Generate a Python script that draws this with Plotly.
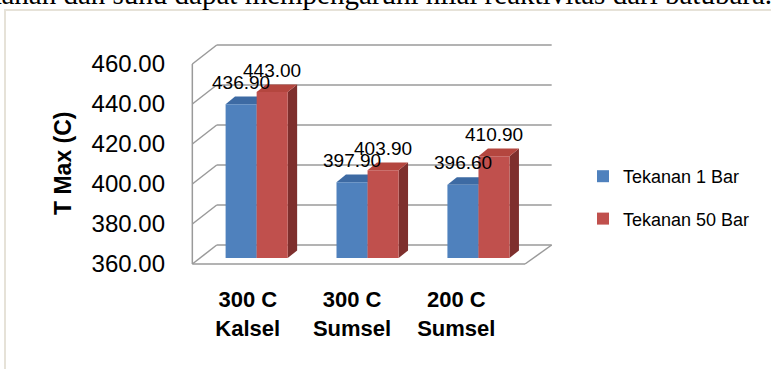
import plotly.graph_objects as go

# ---- data ----
categories = ["300 C<br>Kalsel", "300 C<br>Sumsel", "200 C<br>Sumsel"]
series_names = ["Tekanan 1 Bar", "Tekanan 50 Bar"]
tekanan_1_bar = [436.90, 397.90, 396.60]
tekanan_50_bar = [443.00, 403.90, 410.90]
y_ticks = [360, 380, 400, 420, 440, 460]

# ---- styling / 3D geometry (axis units) ----
FRONT = ["#4F81BD", "#C0504D"]
TOP = ["#3D6AA3", "#B4463F"]
SIDE = ["#3A5F8E", "#7E2F2D"]
GRID = "#9a9a9a"

Y0, Y1 = 356, 472          # y axis range
X0, X1 = -0.55, 2.75       # x axis range
L, R, T, B = 189, 555, 40, 272   # plot area in pixels
FIG_W, FIG_H = 771, 369

FL, FR = -0.52, 2.48       # front left / right edges of the floor
BL, BR = -0.30, 2.72       # back wall left / right
WDY = 9.5                  # wall depth in y units
BAR_W = 0.28               # width of one bar
BAR_SHIFT = 0.06           # front face shift to the right of category centre
LIFT = 3.0                 # front face sits a little behind the floor edge
BDX, BDY = 0.085, 3.8      # depth of each bar


def px_to_paper_x(px):
    return (px - L) / (R - L)


def px_to_paper_y(py):
    return (B - py) / (B - T)


shapes = []

# chart-area border
shapes.append(dict(type="rect", xref="paper", yref="paper",
                   x0=px_to_paper_x(5), x1=px_to_paper_x(FIG_W + 20),
                   y0=px_to_paper_y(FIG_H + 20), y1=px_to_paper_y(10),
                   line=dict(color="#E6E2D8", width=2), fillcolor="rgba(0,0,0,0)",
                   layer="below"))

line_style = dict(color=GRID, width=1.5)
# back wall gridlines and left wall diagonals
for v in y_ticks:
    shapes.append(dict(type="line", xref="x", yref="y", x0=BL, x1=BR,
                       y0=v + WDY, y1=v + WDY, line=line_style, layer="below"))
    shapes.append(dict(type="line", xref="x", yref="y", x0=FL, x1=BL,
                       y0=v, y1=v + WDY, line=line_style, layer="below"))
# left wall front edge
shapes.append(dict(type="line", xref="x", yref="y", x0=FL, x1=FL,
                   y0=y_ticks[0], y1=y_ticks[-1], line=line_style, layer="below"))
# floor front edge and right edge
shapes.append(dict(type="line", xref="x", yref="y", x0=FL, x1=FR,
                   y0=y_ticks[0], y1=y_ticks[0], line=line_style, layer="below"))
shapes.append(dict(type="line", xref="x", yref="y", x0=FR, x1=BR,
                   y0=y_ticks[0], y1=y_ticks[0] + WDY, line=line_style, layer="below"))


def quad(pts, color):
    path = "M " + " L ".join(f"{x},{y}" for x, y in pts) + " Z"
    return dict(type="path", xref="x", yref="y", path=path,
                fillcolor=color, line=dict(width=0), layer="below")


series = [tekanan_1_bar, tekanan_50_bar]
offsets = [BAR_SHIFT - BAR_W, BAR_SHIFT]
base = y_ticks[0] + LIFT

# top and side faces of each bar
for s, vals in enumerate(series):
    for i, v in enumerate(vals):
        xl = i + offsets[s]
        xr = xl + BAR_W
        top = v + LIFT
        shapes.append(quad([(xr, base), (xr + BDX, base + BDY),
                            (xr + BDX, top + BDY), (xr, top)], SIDE[s]))
        shapes.append(quad([(xl, top), (xl + BDX, top + BDY),
                            (xr + BDX, top + BDY), (xr, top)], TOP[s]))

fig = go.Figure()
for s, vals in enumerate(series):
    fig.add_trace(go.Bar(
        x=list(range(len(categories))),
        y=[v - y_ticks[0] for v in vals],
        base=[base] * len(vals),
        width=BAR_W,
        offset=offsets[s],
        name=series_names[s],
        marker=dict(color=FRONT[s], line=dict(width=0)),
        legendgroup=series_names[s],
        hoverinfo="skip",
    ))

annotations = []
# value labels above the bars
for s, vals in enumerate(series):
    for i, v in enumerate(vals):
        annotations.append(dict(
            x=i + offsets[s] + BAR_W / 2, y=v + LIFT, xref="x", yref="y",
            text=f"{v:.2f}", showarrow=False, yshift=22,
            font=dict(family="Liberation Sans", size=19, color="#000000")))

# y axis title
annotations.append(dict(
    x=px_to_paper_x(63), y=px_to_paper_y(163), xref="paper", yref="paper",
    xanchor="center", yanchor="middle",
    text="<b>T Max (C)</b>", textangle=-90, showarrow=False,
    font=dict(family="Liberation Sans", size=23, color="#000000")))

# running text above the chart
annotations.append(dict(
    x=px_to_paper_x(-36), y=px_to_paper_y(12.5), xref="paper", yref="paper",
    xanchor="left", yanchor="bottom",
    text="tekanan dan suhu dapat mempengaruhi nilai reaktivitas dari batubara.",
    showarrow=False,
    font=dict(family="Liberation Serif", size=29, color="#000000")))

fig.update_layout(
    width=FIG_W, height=FIG_H,
    margin=dict(l=L, r=FIG_W - R, t=T, b=FIG_H - B, pad=0),
    paper_bgcolor="#FFFFFF", plot_bgcolor="rgba(0,0,0,0)",
    barmode="overlay",
    shapes=shapes, annotations=annotations,
    showlegend=True,
    legend=dict(x=px_to_paper_x(583), y=px_to_paper_y(158), xanchor="left", yanchor="top",
                font=dict(family="Liberation Sans", size=18, color="#000000"),
                tracegroupgap=16, itemwidth=30, bgcolor="rgba(0,0,0,0)"),
    xaxis=dict(range=[X0, X1], showgrid=False, zeroline=False, showline=False,
               tickmode="array",
               tickvals=[i * 0.94 - 0.02 for i in range(len(categories))],
               ticktext=[f"<b>{c}</b>" for c in categories],
               ticks="", ticklabelstandoff=12,
               tickfont=dict(family="Liberation Sans", size=22, color="#000000")),
    yaxis=dict(range=[Y0, Y1], showgrid=False, zeroline=False, showline=False,
               tickmode="array", tickvals=y_ticks,
               ticktext=[f"{v:.2f}" for v in y_ticks],
               ticks="", ticklabelstandoff=23,
               tickfont=dict(family="Liberation Sans", size=24, color="#000000")),
)

fig.write_html("out.html")
